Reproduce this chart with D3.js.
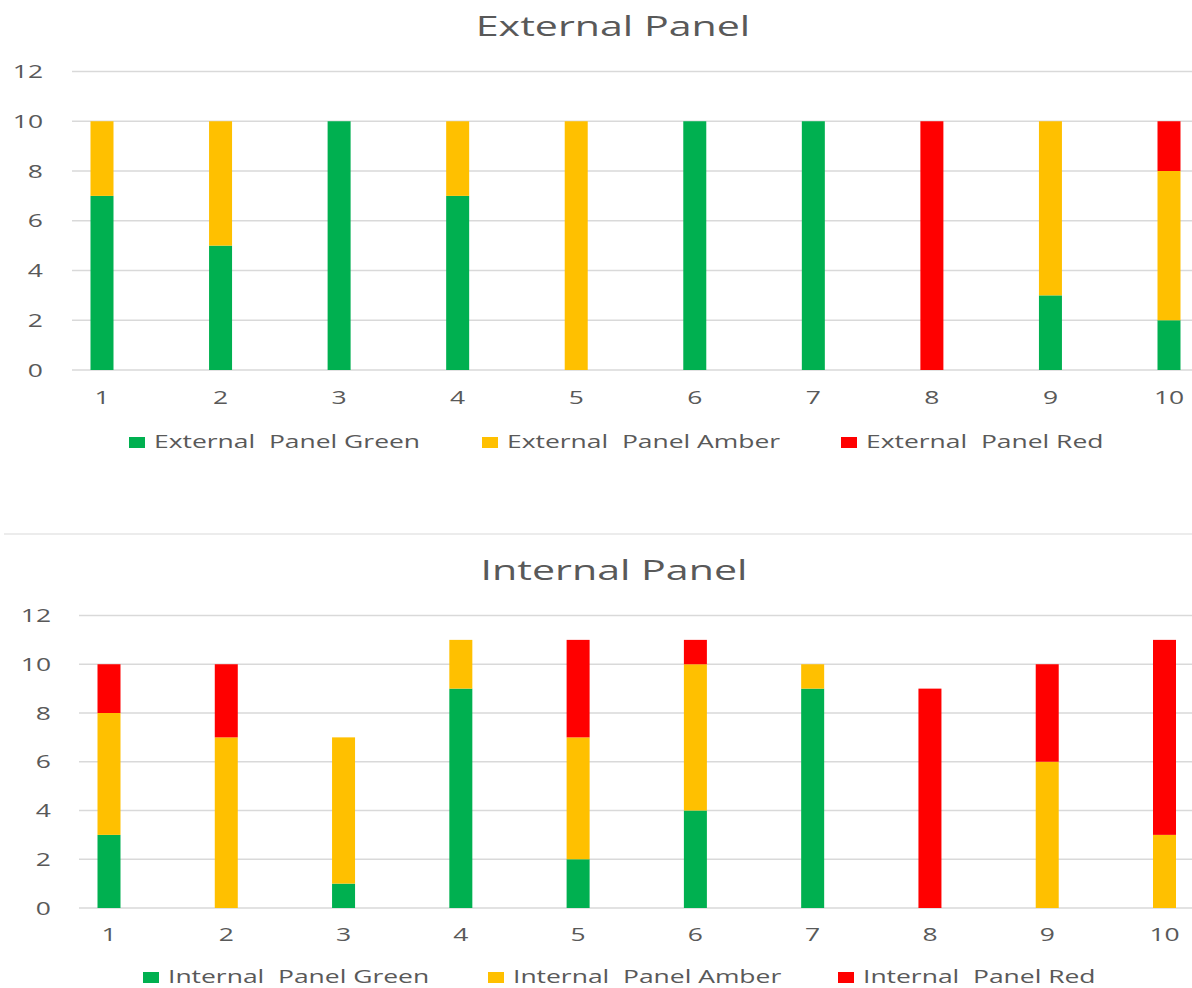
<!DOCTYPE html>
<html>
<head>
<meta charset="utf-8">
<script src="https://cdn.jsdelivr.net/npm/d3@7"></script>
<style>
	body { margin: 0; background: #fff; }
	text { font-family: "Open Sans", sans-serif; fill: #595959; white-space: pre; }
</style>
</head>
<body>
<svg width="1192" height="988"></svg>
<script>
var categories = [1, 2, 3, 4, 5, 6, 7, 8, 9, 10]
var yTicks = [0, 2, 4, 6, 8, 10, 12]

// external panel
var extGreen = [7, 5, 10, 7, 0, 10, 10, 0, 3, 2]
var extAmber = [3, 5, 0, 3, 10, 0, 0, 0, 7, 6]
var extRed   = [0, 0, 0, 0, 0, 0, 0, 10, 0, 2]

// internal panel
var intGreen = [3, 0, 1, 9, 2, 4, 9, 0, 0, 0]
var intAmber = [5, 7, 6, 2, 5, 6, 1, 0, 6, 3]
var intRed   = [2, 3, 0, 0, 4, 1, 0, 9, 4, 8]

var seriesColors = ['#00B050', '#FFC000', '#FF0000']
var SX = 1.47		// the picture is stretched sideways

var svg = d3.select('svg')

function stretchText(g, x, y, str, size, anchor) {
	return g.append('text')
		.attr('transform', 'translate(' + x + ',' + y + ') scale(' + SX + ',1)')
		.attr('text-anchor', anchor || 'start')
		.style('font-size', size + 'px')
		.text(str)
}

function drawPanel(opt) {
	var g = svg.append('g')

	var x = d3.scaleLinear().domain([1, 10]).range([opt.x0, opt.x1])
	var y = d3.scaleLinear().domain([0, 12]).range([opt.yBottom, opt.yTop])

	stretchText(g, opt.titleX, opt.titleY, opt.title, 28, 'middle')

	// gridlines
	g.selectAll('line.grid')
		.data(yTicks)
		.enter().append('line')
			.attr('class', 'grid')
			.attr('x1', opt.gridLeft)
			.attr('x2', 1192)
			.attr('y1', function(d) { return y(d) })
			.attr('y2', function(d) { return y(d) })
			.attr('stroke', '#D9D9D9')
			.attr('stroke-width', 1.5)

	yTicks.forEach(function(t) {
		stretchText(g, opt.yLabelX, y(t) + 6.5, String(t), 18, 'end')
	})
	categories.forEach(function(c) {
		stretchText(g, x(c), opt.xLabelY, String(c), 18, 'middle')
	})

	// stacked bars
	var rows = categories.map(function(c, i) {
		return {cat: c, g: opt.series[0][i], a: opt.series[1][i], r: opt.series[2][i]}
	})
	var stacked = d3.stack().keys(['g', 'a', 'r'])(rows)

	g.selectAll('g.layer')
		.data(stacked)
		.enter().append('g')
			.attr('class', 'layer')
			.attr('fill', function(d, i) { return seriesColors[i] })
		.selectAll('rect')
		.data(function(d) { return d.filter(function(s) { return s[1] > s[0] }) })
		.enter().append('rect')
			.attr('x', function(d) { return x(d.data.cat) - opt.barW / 2 })
			.attr('width', opt.barW)
			.attr('y', function(d) { return y(d[1]) })
			.attr('height', function(d) { return y(d[0]) - y(d[1]) })

	// legend
	opt.legend.forEach(function(name, i) {
		g.append('rect')
			.attr('x', opt.legendX[i])
			.attr('y', opt.legendY - 11)
			.attr('width', 16)
			.attr('height', 11)
			.attr('fill', seriesColors[i])
		stretchText(g, opt.legendX[i] + 25, opt.legendY, name, 18)
	})
}

drawPanel({
	title: 'External Panel', titleX: 613, titleY: 36,
	series: [extGreen, extAmber, extRed],
	x0: 102, x1: 1169, barW: 23,
	yTop: 71.5, yBottom: 370, gridLeft: 72,
	yLabelX: 43, xLabelY: 404,
	legend: ['External  Panel Green', 'External  Panel Amber', 'External  Panel Red'],
	legendX: [129, 482, 841], legendY: 448
})

// divider between the two charts
svg.append('line')
	.attr('x1', 4).attr('x2', 1192)
	.attr('y1', 534).attr('y2', 534)
	.attr('stroke', '#D9D9D9')
	.attr('stroke-width', 1.2)

drawPanel({
	title: 'Internal Panel', titleX: 614, titleY: 580,
	series: [intGreen, intAmber, intRed],
	x0: 109, x1: 1164.5, barW: 23,
	yTop: 615.5, yBottom: 908, gridLeft: 79,
	yLabelX: 51, xLabelY: 941,
	legend: ['Internal  Panel Green', 'Internal  Panel Amber', 'Internal  Panel Red'],
	legendX: [143, 488, 838], legendY: 983
})
</script>
</body>
</html>
